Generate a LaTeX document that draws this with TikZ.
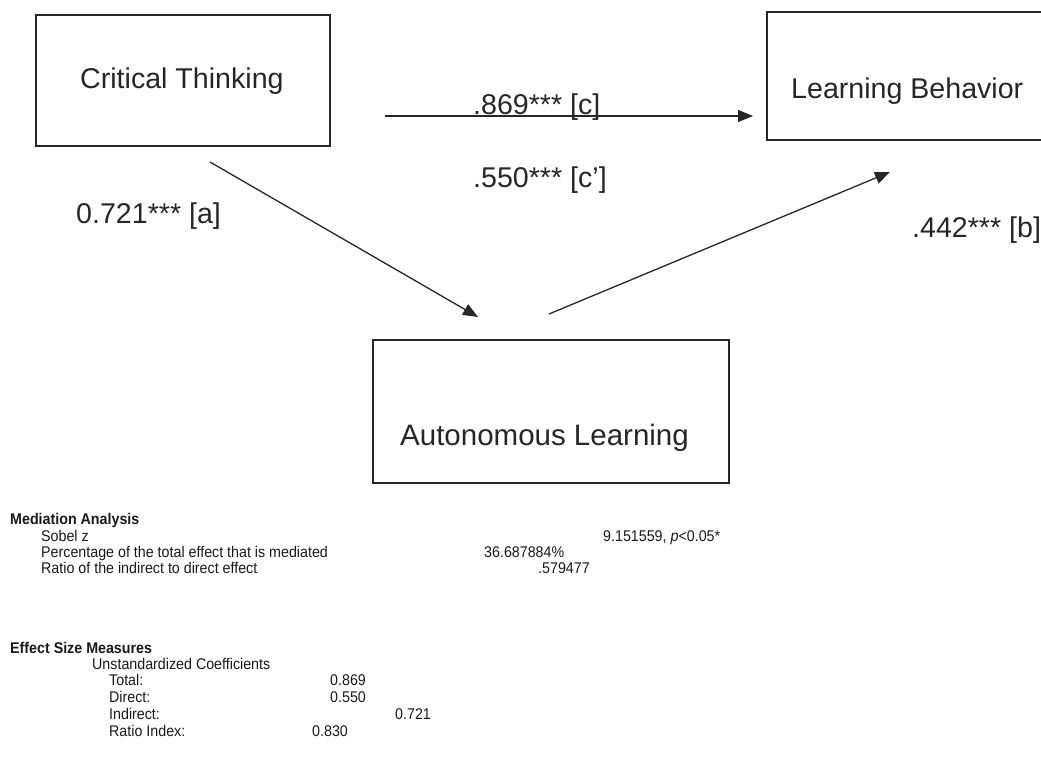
\documentclass[tikz,border=0pt]{standalone}
\usepackage{fontspec}
\setmainfont{Liberation Sans}
\newfontfamily\narrowfont[FakeStretch=0.92]{Liberation Sans}
\usetikzlibrary{arrows.meta}
\tikzset{
  varbox/.style={draw=black!85, line width=1.4pt, fill=none},
  biglabel/.style={anchor=base west, inner sep=0pt, font=\fontsize{28.6}{34}\selectfont, text=black!85},
  smalltext/.style={anchor=base west, inner sep=0pt, font=\narrowfont\fontsize{15.5}{18}\selectfont, text=black!90},
  boldtext/.style={anchor=base west, inner sep=0pt, font=\narrowfont\fontsize{15.5}{18}\selectfont\bfseries, text=black!90},
  path/.style={draw=black!85, line width=1.3pt, -{Triangle[length=15pt,width=12pt]}}
}
\begin{document}
\begin{tikzpicture}[x=1pt,y=-1pt]
\useasboundingbox (0,0) rectangle (1041,771);
% boxes
\draw[varbox] (36,15) rectangle (330,146);
\node[biglabel] (ct) at (80,88) {Critical Thinking};
\draw[varbox] (767,12) rectangle (1050,140);
\node[biglabel] (lb) at (791,98) {Learning Behavior};
\draw[varbox] (373,340) rectangle (729,483);
\node[biglabel, font=\fontsize{29.5}{35}\selectfont] (al) at (400,445) {Autonomous Learning};
% connector ends
\coordinate (cS) at (385,116);
\coordinate (cE) at (753,116);
\coordinate (aS) at (210,162);
\coordinate (aE) at (478,317);
\coordinate (bS) at (549,314);
\coordinate (bE) at (890,172);
% path labels
\node[biglabel] (lc) at (473,114) {.869*** [c]};
\node[biglabel] (lcp) at (473,187) {.550*** [c']};
\node[biglabel] (la) at (76,223) {0.721*** [a]};
\node[biglabel] (lb2) at (912,237) {.442*** [b]};
% arrows
\draw[path] (cS) -- (cE);
\draw[path] (aS) -- (aE);
\draw[path] (bS) -- (bE);
% mediation analysis
\node[boldtext] (ma) at (10,524) {Mediation Analysis};
\node[smalltext] (sz) at (41,541) {Sobel z};
\node[smalltext] (szv) at (603,541) {9.151559, {\itshape p}<0.05*};
\node[smalltext] (pct) at (41,557) {Percentage of the total effect that is mediated};
\node[smalltext] (pctv) at (484,557) {36.687884\%};
\node[smalltext] (rat) at (41,573) {Ratio of the indirect to direct effect};
\node[smalltext] (ratv) at (538,573) {.579477};
% effect size
\node[boldtext] (es) at (10,653) {Effect Size Measures};
\node[smalltext] (uc) at (92,669) {Unstandardized Coefficients};
\node[smalltext] (tot) at (109,685) {Total:};
\node[smalltext] (totv) at (330,685) {0.869};
\node[smalltext] (dir) at (109,702) {Direct:};
\node[smalltext] (dirv) at (330,702) {0.550};
\node[smalltext] (ind) at (109,719) {Indirect:};
\node[smalltext] (indv) at (395,719) {0.721};
\node[smalltext] (ri) at (109,736) {Ratio Index:};
\node[smalltext] (riv) at (312,736) {0.830};
\end{tikzpicture}
\end{document}
